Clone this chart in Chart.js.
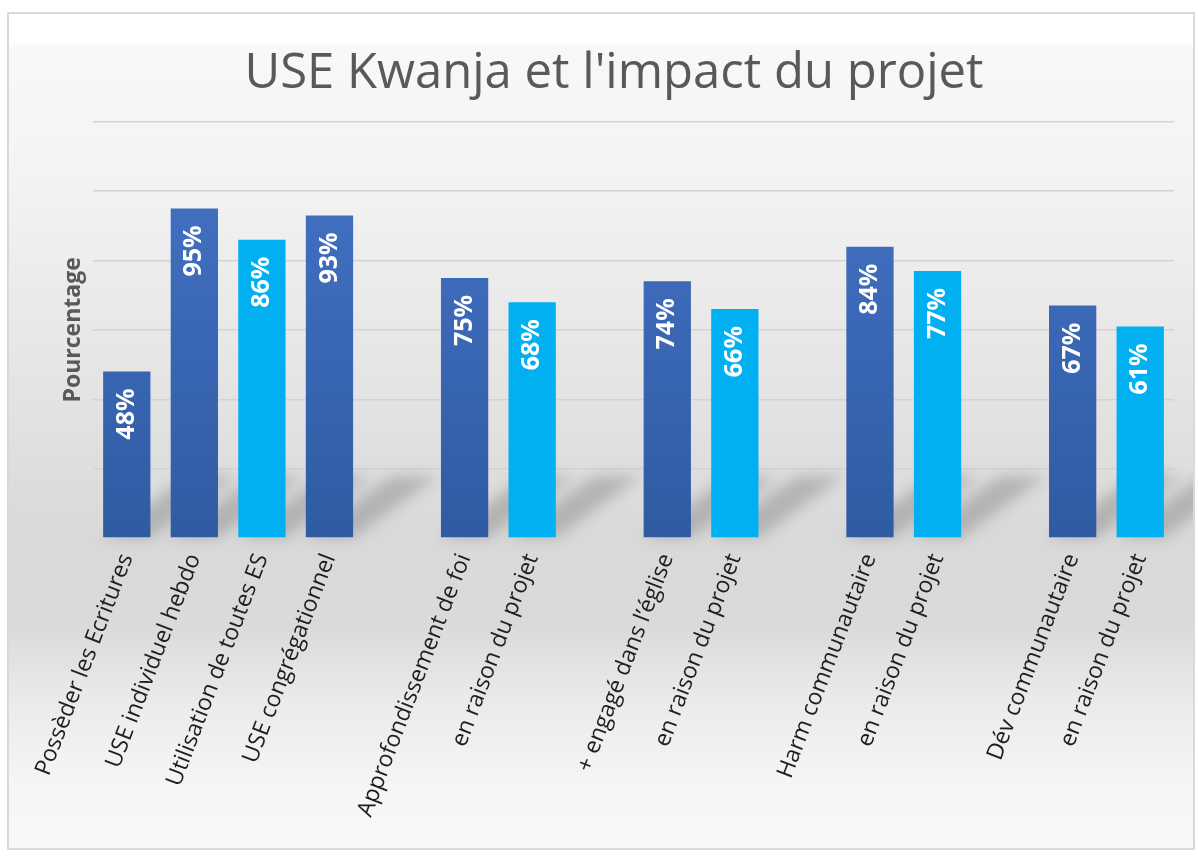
<!DOCTYPE html>
<html>
<head>
<meta charset="utf-8">
<script src="https://cdn.jsdelivr.net/npm/chart.js@4"></script>
<style>
body { margin: 0; background: #fff; }
#cadre { position: absolute; left: 7px; top: 12px; width: 1188px; height: 838px; border: 2px solid #d9d9d9; box-sizing: border-box; }
</style>
</head>
<body>
<div id="cadre"><canvas id="graphique" width="1184" height="834"></canvas></div>
<script>
// Données
const categories = [
    'Possèder les Ecritures',
    'USE individuel hebdo',
    'Utilisation de toutes ES',
    'USE congrégationnel',
    'Approfondissement de foi',
    'en raison du projet',
    '+ engagé dans l\u2019église',
    'en raison du projet',
    'Harm communautaire',
    'en raison du projet',
    'Dév communautaire',
    'en raison du projet'
];
const valeurs = [48, 95, 86, 93, 75, 68, 74, 66, 84, 77, 67, 61];
const teintes = ['fonce', 'fonce', 'clair', 'fonce', 'fonce', 'clair', 'fonce', 'clair', 'fonce', 'clair', 'fonce', 'clair'];
const tailleGroupes = [4, 2, 2, 2, 2];
const ticksY = [0, 20, 40, 60, 80, 100, 120];

// Construire les catégories avec un espace vide entre les groupes
let etiquettes = [];
let donnees = [];
let types = [];
let k = 0;
tailleGroupes.forEach((n, g) => {
    if (g > 0) {
        etiquettes.push('');
        donnees.push(null);
        types.push(null);
    }
    for (let i = 0; i < n; i++) {
        etiquettes.push(categories[k]);
        donnees.push(valeurs[k]);
        types.push(teintes[k]);
        k++;
    }
});

// Fond dégradé gris
const fondDegrade = {
    id: 'fondDegrade',
    beforeDraw(chart) {
        const ctx = chart.ctx;
        const h = chart.height;
        const g = ctx.createLinearGradient(0, 0, 0, h);
        g.addColorStop(0, '#ffffff');
        g.addColorStop(28 / h, '#ffffff');
        g.addColorStop(34 / h, '#f8f8f8');
        g.addColorStop(150 / h, '#f4f4f4');
        g.addColorStop(260 / h, '#ececec');
        g.addColorStop(400 / h, '#e2e2e2');
        g.addColorStop(520 / h, '#d9d9d9');
        g.addColorStop(610 / h, '#dadada');
        g.addColorStop(690 / h, '#ebebeb');
        g.addColorStop(770 / h, '#f5f5f5');
        g.addColorStop(1, '#f9f9f9');
        ctx.save();
        ctx.fillStyle = g;
        ctx.fillRect(0, 0, chart.width, h);
        ctx.restore();
    }
};

// Ombres diagonales derrière les barres
const ombres = {
    id: 'ombres',
    beforeDatasetsDraw(chart) {
        const ctx = chart.ctx;
        const meta = chart.getDatasetMeta(0);
        const base = chart.scales.y.getPixelForValue(0);
        ctx.save();
        ctx.filter = 'blur(7px)';
        ctx.fillStyle = 'rgba(0,0,0,0.18)';
        meta.data.forEach((barre, i) => {
            if (donnees[i] == null) return;
            const w = barre.width;
            ctx.beginPath();
            ctx.moveTo(barre.x - w / 2, base);
            ctx.lineTo(barre.x + w / 2, base);
            ctx.lineTo(barre.x + w / 2 + 85, base - 62);
            ctx.lineTo(barre.x - w / 2 + 85, base - 62);
            ctx.closePath();
            ctx.fill();
        });
        ctx.restore();
    }
};

// Valeurs écrites dans les barres
const valeursBarres = {
    id: 'valeursBarres',
    afterDatasetsDraw(chart) {
        const ctx = chart.ctx;
        const meta = chart.getDatasetMeta(0);
        ctx.save();
        ctx.fillStyle = '#ffffff';
        ctx.font = 'bold 25px "Open Sans"';
        ctx.textAlign = 'right';
        ctx.textBaseline = 'middle';
        meta.data.forEach((barre, i) => {
            if (donnees[i] == null) return;
            ctx.save();
            ctx.translate(barre.x, barre.y + 17);
            ctx.rotate(-Math.PI / 2);
            ctx.fillText(donnees[i] + '%', 0, 0);
            ctx.restore();
        });
        ctx.restore();
    }
};

function couleurBarre(c) {
    if (types[c.dataIndex] === 'clair') return '#00b0f0';
    const zone = c.chart.chartArea;
    if (!zone) return '#3d6bbb';
    const g = c.chart.ctx.createLinearGradient(0, zone.top, 0, zone.bottom);
    g.addColorStop(0, '#4674c8');
    g.addColorStop(1, '#2f5ba2');
    return g;
}

new Chart(document.getElementById('graphique'), {
    type: 'bar',
    data: {
        labels: etiquettes,
        datasets: [{
            data: donnees,
            backgroundColor: couleurBarre,
            borderWidth: 0,
            categoryPercentage: 1,
            barPercentage: 0.7
        }]
    },
    plugins: [fondDegrade, ombres, valeursBarres],
    options: {
        responsive: false,
        animation: false,
        layout: { padding: { left: 45, right: 19, top: 0, bottom: 0 } },
        plugins: {
            legend: { display: false },
            tooltip: { enabled: false },
            title: {
                display: true,
                text: 'USE Kwanja et l\'impact du projet',
                color: '#595959',
                font: { family: '"Open Sans"', size: 49, weight: 'normal' },
                padding: { top: 31, bottom: 18 }
            }
        },
        scales: {
            x: {
                grid: { display: false },
                border: { display: false },
                ticks: {
                    autoSkip: false,
                    minRotation: 69,
                    maxRotation: 69,
                    padding: 4,
                    color: '#1e1e1e',
                    font: { family: '"Open Sans"', size: 23 }
                },
                afterFit(scale) { scale.height = 310; }
            },
            y: {
                min: ticksY[0],
                max: ticksY[ticksY.length - 1],
                afterBuildTicks(scale) { scale.ticks = ticksY.map(v => ({ value: v })); },
                ticks: { display: false },
                grid: {
                    drawTicks: false,
                    lineWidth: 1.5,
                    color: c => (c.tick && c.tick.value === 0) ? 'rgba(0,0,0,0)' : '#d3d3d3'
                },
                border: { display: false },
                title: {
                    display: true,
                    text: 'Pourcentage',
                    color: '#595959',
                    font: { family: '"Open Sans"', size: 23, weight: 'bold' },
                    padding: { top: 6, bottom: 0 }
                },
                afterFit(scale) { scale.width = 39; }
            }
        }
    }
});
</script>
</body>
</html>
